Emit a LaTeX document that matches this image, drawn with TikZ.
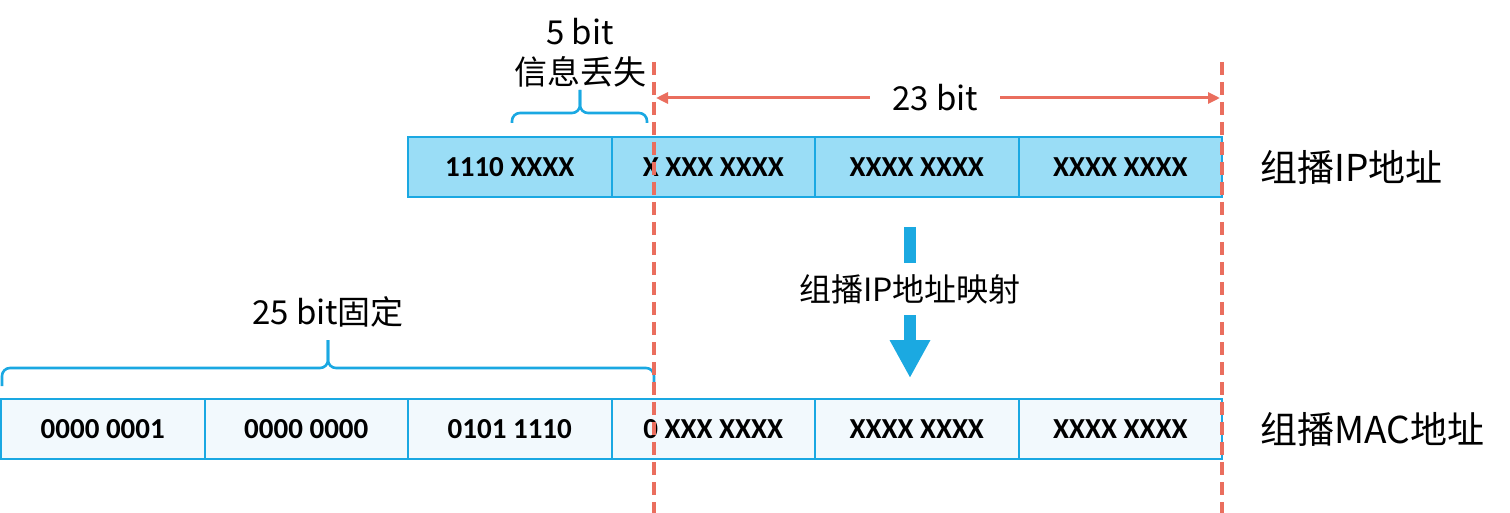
\documentclass[tikz,border=0pt]{standalone}
\usepackage{fontspec}
\setmainfont{Carlito}
\newfontfamily\cjk{Noto Sans CJK SC}
\usetikzlibrary{arrows.meta,positioning}

\definecolor{cellline}{HTML}{1AA8E2}
\definecolor{ipfill}{HTML}{9ADDF6}
\definecolor{macfill}{HTML}{F2F9FD}
\definecolor{cutred}{HTML}{EA6E5E}
\definecolor{mapblue}{HTML}{1BA9E1}

\begin{document}
\begin{tikzpicture}[
    x=0.5pt, y=-0.5pt,
    cell/.style={
        draw=cellline, line width=1pt, anchor=north west,
        minimum width=101.75pt, minimum height=30pt,
        inner sep=0pt, outer sep=0pt,
        font=\fontsize{14.5}{17}\selectfont\bfseries
    },
    ipcell/.style={cell, fill=ipfill},
    maccell/.style={cell, fill=macfill},
    cutline/.style={cutred, line width=1.9pt, dash pattern=on 6.5pt off 3.5pt},
    dimarrow/.style={-{Triangle[length=6pt,width=5.5pt]}, cutred, line width=1.5pt},
    bracket/.style={cellline, line width=1.3pt, rounded corners=4pt},
    % plain labels
    lbl/.style={font=\cjk\fontsize{16.5}{19}\selectfont, inner sep=0pt},
    rowname/.style={font=\cjk\fontsize{18.5}{22}\selectfont, inner sep=0pt},
    maparrow/.style={mapblue, line width=6pt},
]
    \useasboundingbox (0,0) rectangle (1510,513);

    % IP address row
    \foreach \t [count=\k] in {1110 XXXX, X XXX XXXX, XXXX XXXX, XXXX XXXX}
      \node[ipcell] (ip\k) at ({408+(\k-1)*203.5},137) {\t};

    % MAC address row
    \foreach \t [count=\k] in {0000 0001, 0000 0000, 0101 1110, 0 XXX XXXX, XXXX XXXX, XXXX XXXX}
      \node[maccell] (mac\k) at ({1+(\k-1)*203.5},399) {\t};

    \node[rowname, right=19pt of ip4] (ipname) {组播IP地址};
    \node[rowname, right=19pt of mac6] (macname) {组播MAC地址};

    % brace over the lost bits
    \coordinate (lostL) at (512,123);
    \coordinate (lostR) at (647,123);
    \coordinate (lostTip) at (580,90);
    \draw[bracket] (lostL) -- ++(0,-10) -| (lostTip);
    \draw[bracket] (lostR) -- ++(0,-10) -| (lostTip);
    \node[lbl] (lostlbl) at (580,72) {信息丢失};
    \node[lbl] (lostbits) at (580,32) {5 bit};

    % brace over the fixed bits
    \coordinate (fixL) at (2,386);
    \coordinate (fixR) at (654,386);
    \coordinate (fixTip) at (328,340);
    \draw[bracket] (fixL) -- ++(0,-18) -| (fixTip);
    \draw[bracket] (fixR) -- ++(0,-18) -| (fixTip);
    \node[lbl] (fixlbl) at (328,312) {25 bit固定};

    % dashed cut lines
    \coordinate (cutAtop) at (654,62);
    \coordinate (cutAbot) at (654,513);
    \coordinate (cutBtop) at (1222,62);
    \coordinate (cutBbot) at (1222,513);
    \draw[cutline] (cutAtop) -- (cutAbot);
    \draw[cutline] (cutBtop) -- (cutBbot);

    % 23 bit span
    \coordinate (spanL) at (656,98);
    \coordinate (spanR) at (1220,98);
    \node[lbl, inner xsep=11pt] (spanlbl) at (935,98) {23 bit};
    \draw[dimarrow] (spanlbl.west) -- (spanL);
    \draw[dimarrow] (spanlbl.east) -- (spanR);

    % mapping arrow
    \coordinate (mapfrom) at (910,227);
    \coordinate (mapto) at (910,378);
    \node[lbl, font=\cjk\fontsize{16}{19}\selectfont, inner ysep=5.5pt] (maplbl) at (910,289) {组播IP地址映射};
    \draw[maparrow] (mapfrom) -- (maplbl.north);
    \draw[maparrow, -{Triangle[length=19pt,width=19pt]}] (maplbl.south) -- (mapto);
\end{tikzpicture}
\end{document}
